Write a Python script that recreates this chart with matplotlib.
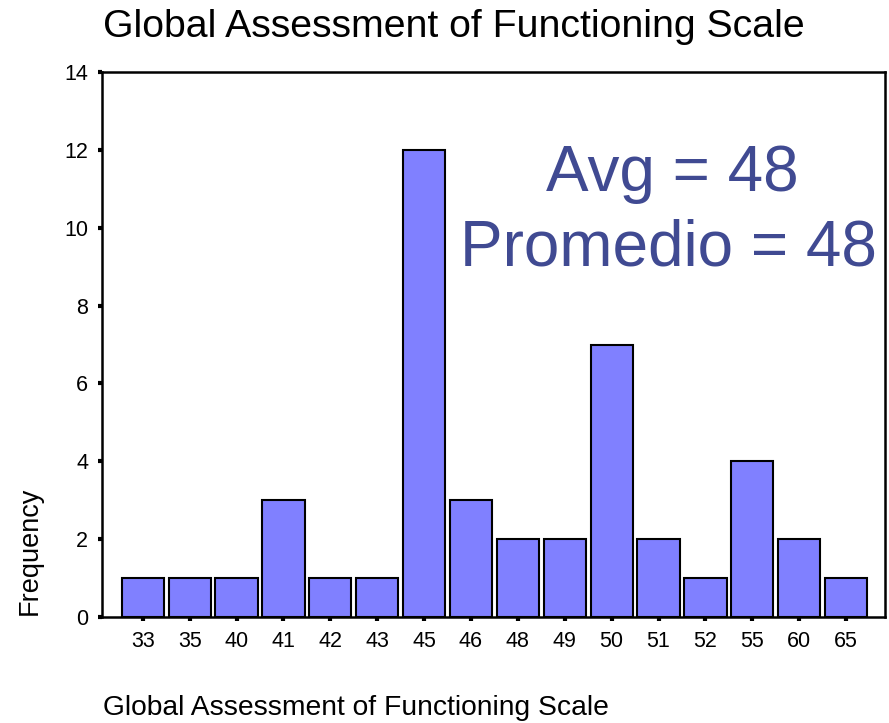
import matplotlib.pyplot as plt
import numpy as np

plt.rcParams['font.family'] = ['Liberation Sans', 'DejaVu Sans']

# puntajes GAF y frecuencias
scores = ['33', '35', '40', '41', '42', '43', '45', '46', '48', '49', '50', '51', '52', '55', '60', '65']
freq = [1, 1, 1, 3, 1, 1, 12, 3, 2, 2, 7, 2, 1, 4, 2, 1]
yticks = [0, 2, 4, 6, 8, 10, 12, 14]

fig = plt.figure(figsize=(8.89, 7.23), dpi=100)
ax = fig.add_axes([0.1147, 0.1466, 0.8808, 0.7538])

x = np.arange(len(scores))
ax.bar(x, freq, width=0.9, color='#8080FF', edgecolor='black', linewidth=1.5)

ax.set_xlim(-0.87, len(scores) - 0.17)
ax.set_ylim(0, 14)
ax.set_xticks(x)
ax.set_xticklabels(scores)
ax.set_yticks(yticks)
ax.tick_params(axis='both', direction='out', length=3, width=3, labelsize=15.5, pad=7)
for s in ax.spines.values():
    s.set_linewidth(1.8)

fig.text(0.034, 0.149, 'Frequency', fontsize=19.5, rotation=90, ha='center', va='bottom')

fig.text(0.116, 0.963, 'Global Assessment of Functioning Scale', fontsize=28.3, ha='left', va='center')
fig.text(0.116, 0.021, 'Global Assessment of Functioning Scale', fontsize=20.3, ha='left', va='center')

ax.text(0.728, 0.813, 'Avg = 48', transform=ax.transAxes, fontsize=46, color='#404A92',
        ha='center', va='center')
ax.text(0.724, 0.677, 'Promedio = 48', transform=ax.transAxes, fontsize=46, color='#404A92',
        ha='center', va='center')

fig.savefig('out.png', dpi=100)
